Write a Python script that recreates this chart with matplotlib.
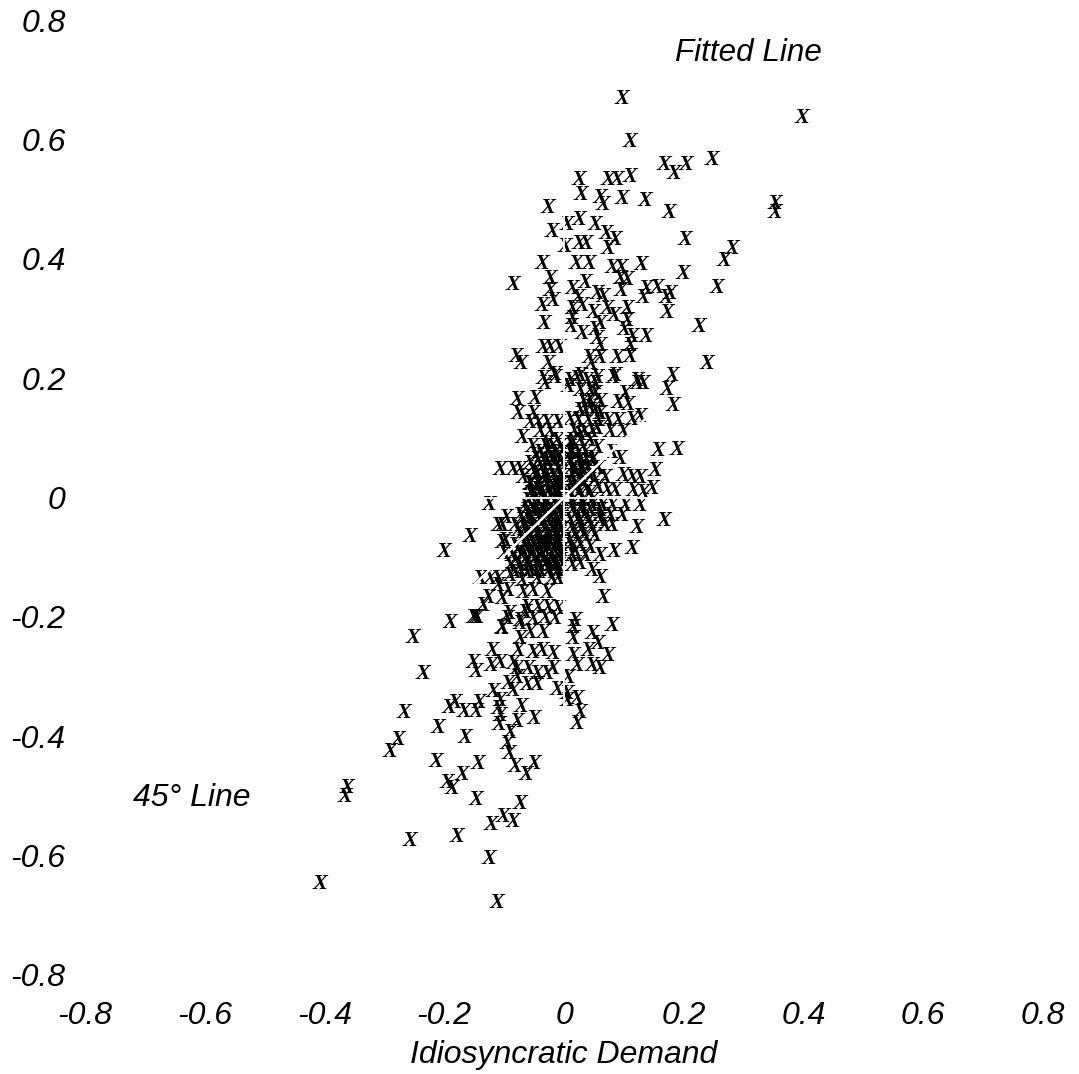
# Idiosyncratic demand scatter, X markers with white axis lines on top
import numpy as np
import matplotlib
matplotlib.use('Agg')
from matplotlib import pyplot as plt

# values
x_upper = [.097,.398,.110,.167,.183,.203,.247,.025,.073,.088,.110,.028,.060,.065,.097,.135,.175,-.027,.353,.352,
           -.020,.005,.025,.052,.070,.085,.202,.002,.025,.037,.073,.280,.268,-.037,.020,.042,.080,.095,.128,.198,
           -.085,-.023,.035,.093,.105,.255,-.023,.013,.055,.065,.095,.137,.155,.132,.177,.170,-.018,-.037,.023,.030,
           .013,.105,.172,.072,.048,.083,.013,-.033,.012,.105,.225,.030,.052,.060,.055,.100,.113,.137,.060,.110,
           -.035,-.023,-.008,-.080,-.072,-.027,.042,.045,.060,.088,.110,.238,-.035,-.015,.010,.027,.055,.085,.122,.180]
y_upper = [.668,.635,.595,.558,.542,.558,.565,.533,.533,.532,.538,.508,.503,.490,.500,.497,.477,.485,.492,.477,
           .445,.457,.465,.457,.443,.433,.432,.420,.425,.425,.418,.417,.398,.393,.393,.393,.385,.385,.390,.375,
           .358,.367,.360,.368,.365,.352,.347,.350,.343,.338,.348,.350,.353,.335,.343,.335,.330,.323,.335,.322,
           .317,.318,.310,.317,.310,.305,.300,.292,.287,.298,.287,.275,.283,.292,.268,.283,.270,.270,.255,.255,
           .253,.253,.253,.238,.225,.225,.235,.225,.235,.235,.238,.225,.200,.208,.197,.205,.202,.205,.197,.205]

x_mid = [-.032,-.015,.007,.022,.038,.052,.082,.122,.132,.172,-.078,-.048,-.077,-.052,-.057,-.043,-.028,-.010,.010,.027,
         .032,.052,.043,.060,.090,.102,.107,.127,.113,.090,.073,.055,.077,.098,.182,-.070,-.053,-.028,-.012,.010,
         .027,.032,.055,.080,.093,.157,.188,-.107,-.085,-.073,-.057,-.048,-.035,-.018,-.010,-.028,-.045,-.068,-.057,-.040,
         -.020,-.010,.010,.010,.027,.018,.038,.048,.027,.010,.052,.068,.057,.072,.085,.098,.113,.127,.152,.115,
         .147,.132,.010,.027,.043,-.057,-.035,-.015]
y_mid = [.193,.202,.188,.200,.197,.192,.202,.193,.193,.183,.165,.167,.142,.143,.127,.127,.127,.127,.133,.147,
         .163,.175,.152,.142,.160,.175,.158,.138,.133,.130,.130,.118,.113,.113,.155,.102,.088,.093,.097,.093,
         .108,.085,.085,.077,.067,.080,.083,.048,.048,.048,.058,.072,.063,.068,.047,.035,.042,.035,.025,.018,
         .018,.025,.075,.058,.067,.047,.052,.067,.030,.025,.030,.035,.018,.013,.013,.038,.035,.035,.047,.013,
         .017,.010,.010,.010,.008,.008,.008,.008]

# dense middle, just below zero
x_core = [-.065,-.048,-.032,-.015,.013,.030,.047,.063,.080,.102,.127,
          -.073,-.057,-.040,-.023,-.007,.018,.035,.060,.077,
          -.082,-.065,-.048,-.032,-.015,.013,.027,.043,.068,.080,
          -.073,-.057,-.040,-.023,-.010,.018,.035,.052,
          -.082,-.065,-.048,-.032,-.015,.010,.027,
          -.087,-.070,-.053,-.037,-.020,-.007,.013,.035,
          -.090,-.073,-.057,-.040,-.023,-.010,.013,
          -.082,-.062,-.045,-.027,-.013]
y_core = [-.012]*11 + [-.028]*9 + [-.045]*10 + [-.062]*8 + [-.078]*7 + [-.095]*8 + [-.112]*7 + [-.123]*5

# the solid black part, estimated row by row
x_dense = [-.032,-.020,-.007,
           -.040,-.027,-.013,.013,.023,.035,
           -.043,-.028,-.015,-.005,.010,.023,.037,.047,
           -.053,-.038,-.023,-.010,.012,.027,.040,.057,
           -.048,-.033,-.018,-.007,.013,.028,.043,
           -.057,-.043,-.030,-.015,-.005,.017,.033,
           -.053,-.040,-.027,-.010,
           -.060,-.045,-.030,-.015,-.005,.013,.030,.047,
           -.063,-.048,-.033,-.018,-.005,.013,.028,.043,.060,
           -.070,-.057,-.042,-.027,-.013,.010,.027,.042,.060,
           -.077,-.062,-.047,-.032,-.018,-.005,.013,.028,.047,
           -.070,-.055,-.040,-.025,-.010,.010,.023,
           -.077,-.062,-.047,-.032,-.017,-.005,.018,
           -.080,-.065,-.050,-.035,-.020,-.007,
           -.073,-.057,-.040,-.025,-.010,
           .013,.027,.043,
           .017,.033,.047,-.040,-.023,
           .023,.040,.057,
           .035,.052,
           .043,.060,
           .027,.043]
y_dense = ([.088]*3 + [.077]*6 + [.063]*8 + [.050]*8 + [.037]*7 + [.023]*7 + [.010]*4 + [-.003]*8
           + [-.020]*9 + [-.037]*9 + [-.053]*9 + [-.070]*7 + [-.087]*7 + [-.103]*6 + [-.120]*5
           + [.097]*3 + [.113]*5 + [.130]*3 + [.147]*2 + [.163]*2 + [.180]*2)

# gaps left in the black part
x_fill = [-.036,-.024,-.012,-.050,-.030,-.008,.020,.034,-.045,-.025,-.012,.020,.036,
          -.052,-.036,-.022,-.008,-.060,-.042,-.026,-.010,-.066,-.050,-.034,-.020,-.006,
          -.060,-.044,-.028,-.012,-.066,-.052,-.036,-.022,-.008,-.058,-.044,-.030,-.014]
y_fill = [.070,.070,.070,.043,.043,.043,.043,.043,.016,.016,.016,.016,.016,
          -.020,-.020,-.020,-.020,-.037,-.037,-.037,-.037,-.052,-.052,-.052,-.052,-.052,
          -.075,-.075,-.075,-.075,-.092,-.092,-.092,-.092,-.092,-.110,-.110,-.110,-.110]

x_lower = [-.125,-.097,-.110,-.103,-.157,-.200,-.098,-.103,-.100,.097,.167,.122,.113,.083,.060,.043,.027,.047,.060,.065,
           .080,.018,.015,-.140,-.123,-.110,-.090,-.070,-.045,-.020,-.010,-.110,-.093,-.068,-.052,-.028,-.103,-.127,-.135,-.148,
           -.190,-.092,-.062,-.043,-.027,-.010,-.052,-.032,-.015,-.073,-.103,-.095]
y_lower = [-.010,-.032,-.045,-.045,-.063,-.088,-.070,-.073,-.092,-.028,-.037,-.048,-.083,-.088,-.095,-.082,-.108,-.120,-.132,-.165,
           -.212,-.203,-.215,-.133,-.133,-.133,-.128,-.137,-.133,-.133,-.133,-.145,-.153,-.157,-.153,-.157,-.167,-.165,-.178,-.198,
           -.207,-.192,-.182,-.182,-.182,-.183,-.200,-.198,-.200,-.203,-.215,-.200]

x_tail = [-.253,-.235,-.267,-.278,-.290,-.210,-.192,-.182,-.167,-.147,-.142,-.165,-.213,-.143,-.170,-.195,-.187,-.363,-.365,-.147,
          -.073,-.102,-.085,-.122,-.258,-.178,-.125,-.408,-.112,-.050,-.063,-.082,-.092,-.095,-.090,-.050,-.078,-.108,-.107,-.110,
          -.072,-.118,.022,.027,.022,.005,-.012,.005,-.107,-.045,-.062,-.085,-.093,-.078,-.152,-.147,-.122,-.107,-.085,-.078,
          -.060,-.045,-.028,-.018,.007,.022,.047,.060,.073,.057,.040,.047,.015,-.018,-.037,-.052,-.077,-.120,-.073,.015,
          -.035,-.057,-.103,-.073,-.145,-.152,-.065]
y_tail = [-.232,-.292,-.357,-.402,-.422,-.382,-.348,-.340,-.355,-.355,-.340,-.398,-.438,-.442,-.460,-.473,-.483,-.482,-.497,-.502,
          -.508,-.530,-.538,-.543,-.570,-.563,-.600,-.642,-.673,-.442,-.460,-.447,-.425,-.408,-.390,-.367,-.372,-.377,-.362,-.350,
          -.347,-.322,-.375,-.357,-.333,-.337,-.318,-.325,-.337,-.310,-.310,-.320,-.308,-.298,-.273,-.288,-.278,-.273,-.275,-.283,
          -.283,-.292,-.292,-.283,-.298,-.278,-.278,-.283,-.262,-.242,-.253,-.225,-.262,-.258,-.253,-.257,-.253,-.253,-.233,-.233,
          -.223,-.223,-.217,-.208,-.198,-.198,-.190]

ticks = [-0.8, -0.6, -0.4, -0.2, 0, 0.2, 0.4, 0.6, 0.8]
tick_labels = ['-0.8', '-0.6', '-0.4', '-0.2', '0', '0.2', '0.4', '0.6', '0.8']
line_45_x = [-0.153, 0.14]
line_45_y = [-0.149, 0.136]

xs = np.concatenate([x_upper, x_mid, x_core, x_dense, x_fill, x_lower, x_tail])
ys = np.concatenate([y_upper, y_mid, y_core, y_dense, y_fill, y_lower, y_tail])
# small correction, y values were read slightly low against the tick spacing
ys = ys * 1.005 - 0.003

W, H = 1079, 1074
fig = plt.figure(figsize=(W / 100, H / 100), dpi=100)
ax = fig.add_axes([85 / W, 1 - 975 / H, (1043 - 85) / W, (975 - 20) / H])
ax.set_xlim(-0.8, 0.8)
ax.set_ylim(-0.8, 0.8)
for s in ax.spines.values():
    s.set_visible(False)

for x, y in zip(xs, ys):
    ax.text(x, y, 'X', family='Liberation Serif', style='italic', weight='bold',
            fontsize=16, ha='center', va='center', color='black')

# white lines go over the points
ax.axhline(0, color='white', lw=1.3, zorder=5)
ax.axvline(0, color='white', lw=1.3, zorder=5)
ax.plot(line_45_x, line_45_y, color='white', lw=1.8, zorder=5)

lab = dict(family='Liberation Sans', style='italic', fontsize=23)
ax.set_xticks(ticks)
ax.set_xticklabels(tick_labels, **lab)
ax.set_yticks(ticks)
ax.set_yticklabels(tick_labels, **lab)
ax.tick_params(axis='x', length=0, pad=18.4)
ax.tick_params(axis='y', length=0, pad=14)
ax.set_xlabel('Idiosyncratic Demand', labelpad=6.6, **lab)

ax.text(0.185, 0.745, 'Fitted Line', va='center', ha='left', family='Liberation Sans', style='italic', fontsize=22.6)
ax.text(-0.72, -0.503, '45° Line', va='center', ha='left', **lab)

fig.savefig('out.png', dpi=100)
